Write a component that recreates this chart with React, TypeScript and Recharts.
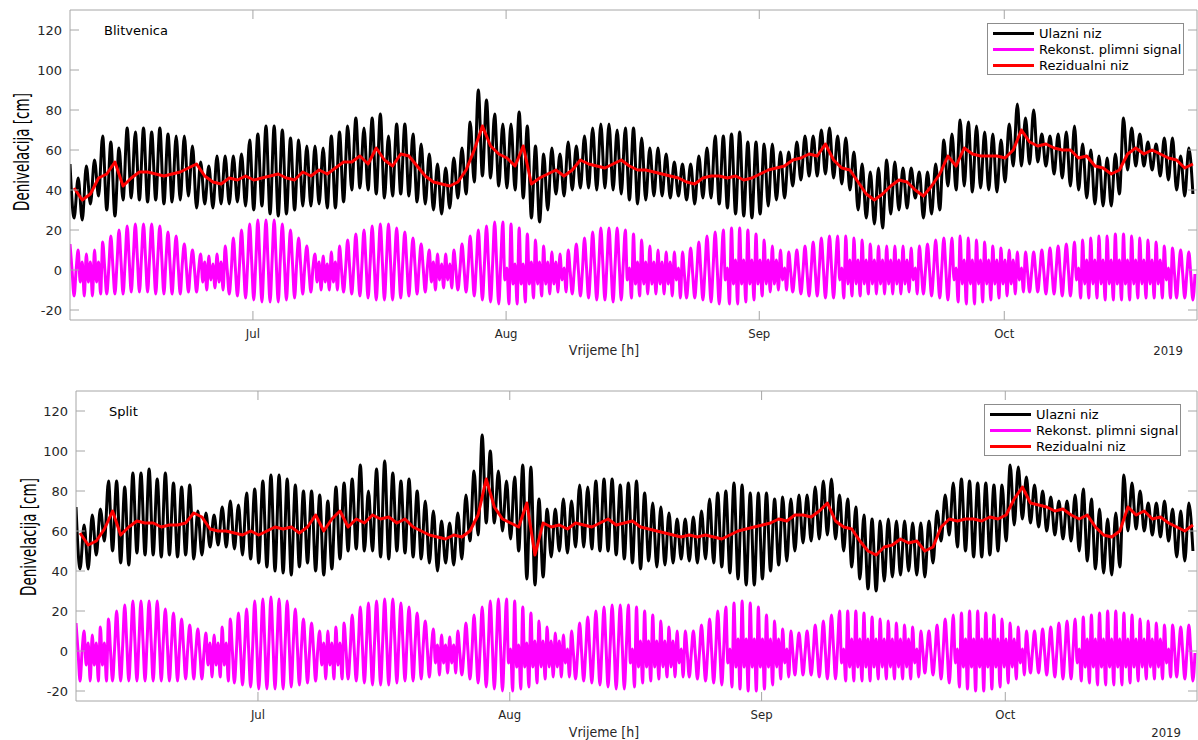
import React from "react";
import { LineChart, Line, XAxis, YAxis } from "recharts";

// time axis: days counted from 1 Jul, the plot starts ~8.6 Jun
const firstDay = -22.4;
const lastDay = 115.6;
const monthTicks = [0, 31, 62, 92];
const monthNames = ["Jul", "Aug", "Sep", "Oct"];
const levelTicks = [-20, 0, 20, 40, 60, 80, 100, 120];

// ---- Blitvenica (one day per entry) ----
const blitInputHigh = [
  53, 46, 52, 55, 67, 64, 61, 71, 69, 71, 69, 71, 68, 67, 67, 62, 54, 52, 57, 57,
  57, 58, 65, 68, 72, 72, 70, 66, 65, 62, 62, 61, 67, 69, 72, 76, 71, 76, 78, 67,
  73, 73, 68, 63, 58, 53, 51, 56, 61, 74, 90, 85, 78, 73, 73, 79, 72, 62, 58, 61,
  58, 64, 62, 67, 71, 73, 73, 70, 71, 71, 66, 61, 61, 58, 54, 53, 53, 57, 61, 67,
  67, 68, 69, 64, 64, 63, 63, 59, 59, 64, 67, 67, 70, 71, 67, 66, 59, 53, 49, 51,
  55, 54, 51, 51, 49, 49, 53, 65, 68, 75, 74, 72, 69, 68, 65, 73, 83, 76, 80, 68,
  67, 68, 69, 72, 63, 60, 57, 56, 58, 76, 71, 68, 64, 63, 66, 66, 57, 61,
];
const blitInputLow = [
  26, 25, 33, 37, 30, 27, 35, 36, 35, 34, 35, 33, 34, 35, 37, 31, 33, 31, 33, 33,
  34, 32, 30, 32, 28, 27, 28, 30, 32, 32, 33, 31, 31, 34, 40, 41, 40, 38, 36, 37,
  38, 37, 34, 33, 30, 28, 31, 36, 38, 44, 47, 46, 42, 41, 40, 36, 26, 24, 30, 38,
  37, 40, 41, 41, 40, 41, 40, 38, 35, 33, 35, 37, 37, 36, 37, 35, 33, 36, 36, 33,
  31, 28, 27, 26, 28, 32, 35, 36, 42, 45, 47, 47, 48, 46, 43, 40, 30, 26, 23, 21,
  28, 30, 31, 36, 26, 28, 30, 42, 40, 42, 39, 41, 40, 39, 44, 52, 52, 53, 54, 52,
  48, 46, 42, 40, 36, 33, 32, 32, 38, 50, 52, 52, 50, 47, 45, 40, 37, 38,
];
// tide at 0h / 6h / 12h / 18h of each day
const blitTide0h = [
  13, 10, 8, 10, 14, 17, 20, 22, 23, 23, 23, 22, 19, 17, 13, 10, 8, 7, 8, 12,
  16, 20, 23, 25, 25, 25, 23, 20, 16, 12, 8, 7, 9, 12, 15, 18, 20, 22, 23, 23,
  21, 19, 16, 13, 10, 8, 8, 10, 13, 17, 20, 22, 24, 24, 23, 21, 18, 15, 12, 9,
  8, 10, 13, 16, 19, 21, 21, 21, 20, 18, 15, 12, 10, 9, 9, 9, 11, 14, 17, 19,
  20, 21, 21, 20, 18, 15, 12, 10, 9, 10, 12, 14, 16, 17, 17, 17, 16, 15, 13, 12,
  12, 12, 12, 11, 12, 13, 15, 16, 16, 17, 16, 15, 14, 12, 11, 10, 9, 9, 9, 10,
  11, 12, 13, 14, 15, 16, 17, 17, 18, 18, 17, 16, 15, 14, 12, 11, 10, 9,
];
const blitTide6h = [
  0, -6, -6, -6, 1, 2, 4, 5, 6, 6, 5, 5, 3, 2, 1, 0, -6, -5, -6, 0,
  1, 3, 4, 4, 4, 4, 4, 3, 2, 0, -6, -6, -6, 0, 1, 2, 3, 3, 4, 4,
  3, 3, 2, 1, -6, -5, -5, 0, 1, 2, 2, 3, 3, -5, -7, -7, -7, -7, -7, -7,
  -5, -1, 0, 1, 2, 3, 2, 3, -5, -7, -7, -7, -7, -7, -5, -3, -2, -1, 0, 1,
  -5, -7, -7, -7, -7, -7, -7, -5, -1, -1, -1, 0, 1, 1, -5, -7, -7, -7, -7, -7,
  -7, -7, -7, -5, 0, 0, 0, 0, -5, -7, -7, -7, -7, -7, -7, -7, -5, -1, -1, -1,
  -1, -1, 0, -5, -7, -7, -7, -7, -7, -7, -7, -7, -7, -7, -5, -2, -2, -3,
];
const blitTide12h = [
  -13, 4, 4, 4, -12, -12, -12, -11, -11, -11, -12, -12, -12, -12, -11, -11, 4, 3, 4, -12,
  -13, -14, -15, -16, -16, -16, -15, -14, -12, -11, 4, 3, 4, -11, -12, -13, -14, -15, -15, -15,
  -14, -13, -12, -11, 4, 3, 3, -10, -11, -13, -15, -16, -17, 1, 3, 3, 4, 4, 4, 4,
  1, -12, -13, -14, -15, -15, -16, -15, 1, 4, 4, 4, 4, 4, 1, -14, -14, -15, -16, -17,
  1, 5, 5, 5, 5, 5, 5, 1, -11, -12, -13, -13, -14, -14, 1, 5, 5, 5, 5, 5,
  5, 5, 5, 1, -12, -13, -14, -15, 1, 5, 5, 5, 5, 5, 5, 5, 1, -11, -11, -12,
  -12, -13, -13, 1, 5, 5, 5, 5, 5, 5, 5, 5, 5, 5, 1, -14, -14, -15,
];
const blitTide18h = [
  0, -13, -13, -12, 1, 3, 4, 6, 6, 6, 6, 5, 4, 3, 1, 0, -10, -9, -10, 0,
  2, 3, 4, 5, 5, 5, 4, 3, 2, 1, -10, -10, -10, 1, 2, 3, 3, 4, 4, 4,
  4, 3, 2, 1, -10, -9, -9, 0, 1, 2, 3, 3, 4, -17, -17, -16, -14, -13, -12, -11,
  -11, 0, 0, 1, 2, 3, 3, 3, -14, -13, -12, -12, -12, -13, -14, -2, -1, 0, 1, 1,
  -17, -17, -16, -15, -13, -11, -10, -10, -1, -1, 0, 1, 1, 2, -14, -13, -13, -12, -12, -12,
  -12, -12, -11, -12, 0, 0, 1, 1, -16, -17, -17, -16, -15, -14, -13, -12, -11, -1, -1, -1,
  0, 0, 0, -14, -14, -14, -15, -15, -15, -15, -14, -14, -14, -14, -14, -1, -2, -2,
];
const blitResidual = [
  41, 35, 38, 46, 48, 54, 42, 46, 49, 49, 48, 47, 48, 49, 51, 53, 47, 44, 43, 46,
  45, 47, 45, 46, 47, 48, 46, 45, 49, 47, 50, 48, 51, 54, 54, 57, 53, 61, 55, 52,
  58, 57, 52, 47, 44, 43, 42, 44, 50, 60, 72, 62, 58, 56, 52, 62, 43, 46, 48, 50,
  47, 50, 55, 53, 52, 51, 53, 55, 52, 50, 50, 49, 48, 47, 46, 44, 43, 46, 47, 47,
  46, 47, 45, 46, 48, 50, 51, 52, 55, 56, 58, 57, 63, 55, 51, 50, 44, 38, 35, 38,
  42, 45, 44, 40, 37, 42, 48, 57, 52, 61, 58, 57, 57, 57, 56, 60, 70, 64, 62, 63,
  61, 60, 60, 56, 57, 52, 51, 48, 50, 58, 61, 58, 60, 58, 56, 55, 51, 53,
];

// ---- Split ----
const splitInputHigh = [
  72, 63, 68, 71, 85, 85, 82, 89, 89, 91, 86, 89, 84, 82, 83, 70, 69, 68, 72, 75,
  73, 79, 81, 85, 88, 88, 86, 83, 80, 80, 78, 75, 82, 84, 86, 93, 80, 91, 95, 89,
  85, 86, 80, 75, 70, 65, 64, 69, 78, 90, 108, 100, 90, 85, 87, 93, 92, 76, 71, 71,
  76, 75, 83, 82, 85, 86, 86, 83, 84, 85, 79, 74, 72, 69, 66, 66, 67, 70, 76, 79,
  80, 84, 83, 79, 79, 79, 76, 77, 76, 78, 78, 82, 85, 86, 78, 76, 72, 68, 66, 65,
  66, 65, 65, 64, 64, 65, 70, 78, 84, 86, 85, 84, 84, 83, 83, 93, 92, 87, 83, 80,
  77, 75, 75, 78, 81, 76, 71, 66, 69, 88, 84, 80, 74, 74, 75, 71, 70, 74,
];
const splitInputLow = [
  41, 41, 48, 55, 50, 44, 43, 49, 48, 48, 47, 48, 47, 48, 46, 48, 52, 53, 52, 51,
  48, 46, 44, 42, 40, 39, 38, 42, 44, 40, 38, 41, 46, 50, 51, 50, 50, 47, 46, 50,
  49, 47, 46, 44, 40, 44, 43, 46, 55, 58, 64, 64, 60, 56, 50, 36, 33, 37, 47, 50,
  49, 52, 52, 51, 50, 50, 48, 46, 44, 41, 45, 42, 43, 44, 46, 45, 44, 46, 44, 42,
  39, 36, 33, 33, 36, 40, 43, 45, 50, 54, 55, 56, 58, 56, 50, 42, 36, 31, 30, 35,
  37, 38, 40, 38, 37, 44, 55, 58, 52, 50, 47, 47, 48, 50, 55, 63, 66, 64, 62, 60,
  58, 56, 55, 50, 45, 41, 39, 38, 42, 60, 61, 60, 58, 57, 55, 47, 45, 50,
];
const splitTide0h = [
  14, 10, 8, 12, 16, 20, 23, 25, 25, 25, 25, 21, 19, 16, 13, 11, 9, 8, 12, 16,
  19, 21, 25, 26, 27, 26, 25, 21, 16, 14, 10, 10, 12, 14, 18, 22, 24, 25, 26, 26,
  24, 22, 19, 15, 11, 8, 7, 10, 14, 18, 22, 25, 26, 26, 25, 22, 19, 15, 12, 9,
  8, 10, 14, 17, 20, 22, 23, 23, 23, 22, 20, 18, 15, 12, 10, 10, 10, 13, 16, 20,
  22, 24, 25, 24, 22, 18, 15, 11, 10, 9, 10, 13, 15, 18, 20, 20, 20, 19, 17, 16,
  15, 14, 13, 12, 10, 10, 13, 16, 18, 19, 20, 20, 19, 18, 16, 14, 12, 10, 10, 11,
  12, 14, 15, 16, 17, 18, 19, 20, 20, 19, 18, 16, 15, 14, 13, 13, 12, 13,
];
const splitTide6h = [
  0, -7, -7, -7, 0, 2, 4, 5, 5, 5, 5, 3, 2, 1, 0, -1, -7, -7, -7, 0,
  1, 1, 3, 3, 4, 3, 3, 2, 0, 0, -7, -7, -7, 0, 1, 3, 3, 4, 4, 5,
  4, 3, 2, 1, -6, -6, -6, -1, 0, 1, 2, 3, 3, -6, -8, -8, -8, -8, -8, -8,
  -6, -2, -1, 0, 1, 2, 2, 2, -6, -8, -8, -8, -8, -8, -6, -1, -2, -1, 0, 1,
  -6, -8, -8, -8, -8, -8, -8, -6, -1, -1, -1, 0, 0, 2, -6, -8, -8, -8, -8, -8,
  -8, -8, -8, -6, 0, -1, -1, 0, -6, -8, -8, -8, -8, -8, -8, -8, -6, -1, -1, -1,
  -1, 0, 0, -6, -8, -8, -8, -8, -8, -8, -8, -8, -8, -8, -6, 0, -1, -1,
];
const splitTide12h = [
  -15, 4, 4, 4, -15, -15, -15, -15, -15, -15, -15, -15, -15, -14, -14, -14, 4, 4, 4, -16,
  -17, -18, -19, -19, -19, -19, -18, -17, -16, -15, 4, 4, 4, -14, -15, -16, -17, -17, -17, -16,
  -15, -15, -14, -13, 3, 3, 3, -12, -14, -16, -18, -19, -20, 1, 3, 4, 5, 5, 5, 5,
  1, -14, -15, -16, -17, -18, -19, -19, 1, 5, 5, 5, 5, 5, 1, -13, -14, -15, -16, -17,
  1, 6, 6, 6, 6, 6, 6, 1, -12, -12, -12, -13, -14, -14, 1, 6, 6, 6, 6, 6,
  6, 6, 6, 1, -11, -12, -14, -16, 1, 6, 6, 6, 6, 6, 6, 6, 1, -11, -11, -12,
  -13, -14, -14, 1, 6, 6, 6, 6, 6, 6, 6, 6, 6, 6, 1, -13, -14, -15,
];
const splitTide18h = [
  0, -15, -15, -15, 1, 3, 4, 5, 5, 5, 5, 3, 2, 1, 0, -1, -13, -13, -15, 0,
  1, 2, 3, 4, 4, 4, 4, 2, 0, 0, -14, -14, -14, 0, 2, 3, 4, 4, 5, 5,
  5, 4, 3, 1, -12, -11, -11, -1, 0, 1, 2, 3, 3, -20, -19, -18, -16, -14, -13, -13,
  -13, -1, 0, 1, 2, 2, 2, 2, -18, -16, -15, -14, -13, -13, -13, -1, -1, -1, 0, 2,
  -18, -19, -20, -20, -19, -17, -14, -13, -1, -1, -1, 0, 1, 2, -15, -15, -15, -15, -14, -14,
  -14, -14, -14, -13, 0, -1, 0, 0, -18, -19, -20, -20, -19, -18, -16, -14, -12, 0, 0, 0,
  0, 0, 1, -15, -16, -17, -17, -17, -17, -16, -15, -14, -14, -14, -13, 0, -1, -1,
];
const splitResidual = [
  59, 53, 55, 61, 70, 58, 62, 65, 64, 64, 62, 63, 63, 64, 69, 67, 61, 60, 60, 59,
  58, 60, 58, 60, 62, 61, 62, 59, 62, 68, 60, 66, 70, 62, 66, 64, 68, 66, 67, 64,
  66, 62, 60, 58, 57, 56, 58, 57, 60, 68, 86, 72, 66, 64, 62, 74, 48, 64, 62, 63,
  61, 64, 63, 62, 64, 66, 63, 64, 65, 62, 61, 60, 59, 58, 57, 58, 57, 58, 57, 56,
  58, 60, 61, 62, 63, 64, 66, 65, 68, 68, 67, 70, 74, 65, 62, 61, 55, 50, 48, 52,
  53, 56, 54, 55, 50, 52, 62, 66, 65, 66, 66, 65, 67, 66, 68, 76, 82, 74, 73, 72,
  70, 71, 68, 66, 68, 62, 58, 57, 60, 72, 68, 70, 66, 67, 64, 62, 60, 63,
];

const series = [
  { key: "ulaz", name: "Ulazni niz", color: "#000000", width: 3, curve: "monotone" },
  { key: "plima", name: "Rekonst. plimni signal", color: "#ff00ff", width: 3, curve: "monotone" },
  { key: "rez", name: "Rezidualni niz", color: "#ff0000", width: 3, curve: "linear" },
] as const;

type Row = { t: number; ulaz?: number; plima?: number; rez?: number };

function buildRows(
  inHigh: number[], inLow: number[],
  tide0: number[], tide6: number[], tide12: number[], tide18: number[],
  residual: number[]
): Row[] {
  const rows: Row[] = [];
  inHigh.forEach((_, i) => {
    const t = firstDay + i;
    rows.push({ t, ulaz: inHigh[i], plima: tide0[i] });
    rows.push({ t: t + 0.25, plima: tide6[i] });
    rows.push({ t: t + 0.5, ulaz: inLow[i], plima: tide12[i], rez: residual[i] });
    rows.push({ t: t + 0.75, plima: tide18[i] });
  });
  return rows;
}

const blitRows = buildRows(blitInputHigh, blitInputLow, blitTide0h, blitTide6h, blitTide12h, blitTide18h, blitResidual);
const splitRows = buildRows(splitInputHigh, splitInputLow, splitTide0h, splitTide6h, splitTide12h, splitTide18h, splitResidual);

const BOX = "#a6a6a6";
const TXT = "#262626";
const TICK_LEN = 9;

const LeftTick = (p: any) => (
  <g>
    <line x1={p.x + 8} x2={p.x + 8 + TICK_LEN} y1={p.y} y2={p.y} stroke={BOX} />
    <text x={p.x} y={p.y} dy={4.5} textAnchor="end" fontSize={13} fill={TXT} fontFamily="DejaVu Sans">
      {p.payload.value}
    </text>
  </g>
);
const RightTick = (p: any) => (
  <line x1={p.x - TICK_LEN} x2={p.x} y1={p.y} y2={p.y} stroke={BOX} />
);
const TopTick = (p: any) => (
  <line x1={p.x} x2={p.x} y1={p.y} y2={p.y + TICK_LEN} stroke={BOX} />
);
const BottomTick = (p: any) => (
  <g>
    <line x1={p.x} x2={p.x} y1={p.y - 6} y2={p.y - 6 - TICK_LEN} stroke={BOX} />
    <text x={p.x} y={p.y} dy={12} textAnchor="middle" fontSize={13} fill={TXT}
      fontFamily="'DejaVu Sans Condensed', 'DejaVu Sans'" style={{ fontStretch: "condensed" }}>
      {monthNames[monthTicks.indexOf(p.payload.value)]}
    </text>
  </g>
);

function Panel({ rows, height, top, bottom, left }: { rows: Row[]; height: number; top: number; bottom: number; left: number }) {
  return (
    <LineChart width={1198} height={height} data={rows} margin={{ top, right: 0, bottom: 0, left: 0 }}>
      <XAxis dataKey="t" type="number" domain={[firstDay, lastDay]} allowDataOverflow ticks={monthTicks}
        interval={0} height={bottom} tickSize={0} tickMargin={6} tick={<BottomTick />} axisLine={{ stroke: BOX }} />
      <XAxis xAxisId="top" orientation="top" dataKey="t" type="number" domain={[firstDay, lastDay]} allowDataOverflow
        ticks={monthTicks} interval={0} height={1} tickSize={0} tickMargin={0} tick={<TopTick />} axisLine={{ stroke: BOX }} />
      <YAxis type="number" domain={[-25, 130]} allowDataOverflow ticks={levelTicks} interval={0} width={left}
        tickSize={0} tickMargin={8} tick={<LeftTick />} axisLine={{ stroke: BOX }} />
      <YAxis yAxisId="r" orientation="right" type="number" domain={[-25, 130]} allowDataOverflow ticks={levelTicks}
        interval={0} width={1} tickSize={0} tickMargin={0} tick={<RightTick />} axisLine={{ stroke: BOX }} />
      {series.map((s) => (
        <Line key={s.key} type={s.curve} dataKey={s.key} name={s.name} stroke={s.color} strokeWidth={s.width}
          strokeLinejoin="round" dot={false} activeDot={false} connectNulls isAnimationActive={false} />
      ))}
    </LineChart>
  );
}

function LegendBox({ left, top }: { left: number; top: number }) {
  return (
    <div style={{ position: "absolute", left, top, width: 195, height: 49, border: "1px solid #8c8c8c",
      background: "#fff", fontFamily: "DejaVu Sans", fontSize: 13, color: "#000", paddingTop: 1 }}>
      {series.map((s) => (
        <div key={s.key} style={{ display: "flex", alignItems: "center", height: 16 }}>
          <div style={{ width: 41, height: 3, background: s.color, marginLeft: 5, marginRight: 5 }} />
          <span>{s.name}</span>
        </div>
      ))}
    </div>
  );
}

const condensed = { fontFamily: "'DejaVu Sans Condensed', 'DejaVu Sans'", fontStretch: "condensed" as const };

export default function App() {
  return (
    <div style={{ position: "relative", width: 1198, height: 740, background: "#fff", overflow: "hidden" }}>
      <style>{"body{margin:0}"}</style>
      <div style={{ position: "absolute", left: 0, top: 0 }}>
        <Panel rows={blitRows} height={380} top={9} bottom={60} left={70} />
      </div>
      <div style={{ position: "absolute", left: 0, top: 380 }}>
        <Panel rows={splitRows} height={360} top={10} bottom={39} left={76} />
      </div>
      <LegendBox left={987} top={23} />
      <LegendBox left={984} top={404} />
      <svg width={1198} height={740} style={{ position: "absolute", left: 0, top: 0, pointerEvents: "none" }}>
        <text x={104} y={35} fontSize={13} fontFamily="DejaVu Sans" fill="#000">Blitvenica</text>
        <text x={109} y={416} fontSize={13} fontFamily="DejaVu Sans" fill="#000">Split</text>
        <text x={604} y={355} fontSize={14} textAnchor="middle" fill={TXT} style={condensed}>Vrijeme [h]</text>
        <text x={604} y={737} fontSize={14} textAnchor="middle" fill={TXT} style={condensed}>Vrijeme [h]</text>
        <text x={1183} y={355} fontSize={13} textAnchor="end" fill={TXT} style={condensed}>2019</text>
        <text x={1181} y={737} fontSize={13} textAnchor="end" fill={TXT} style={condensed}>2019</text>
        <text transform="translate(29,152) rotate(-90) scale(1,1.45)" fontSize={15} textAnchor="middle" fill="#000" style={condensed}>
          Denivelacija [cm]
        </text>
        <text transform="translate(36,537) rotate(-90) scale(1,1.45)" fontSize={15} textAnchor="middle" fill="#000" style={condensed}>
          Denivelacija [cm]
        </text>
      </svg>
    </div>
  );
}
